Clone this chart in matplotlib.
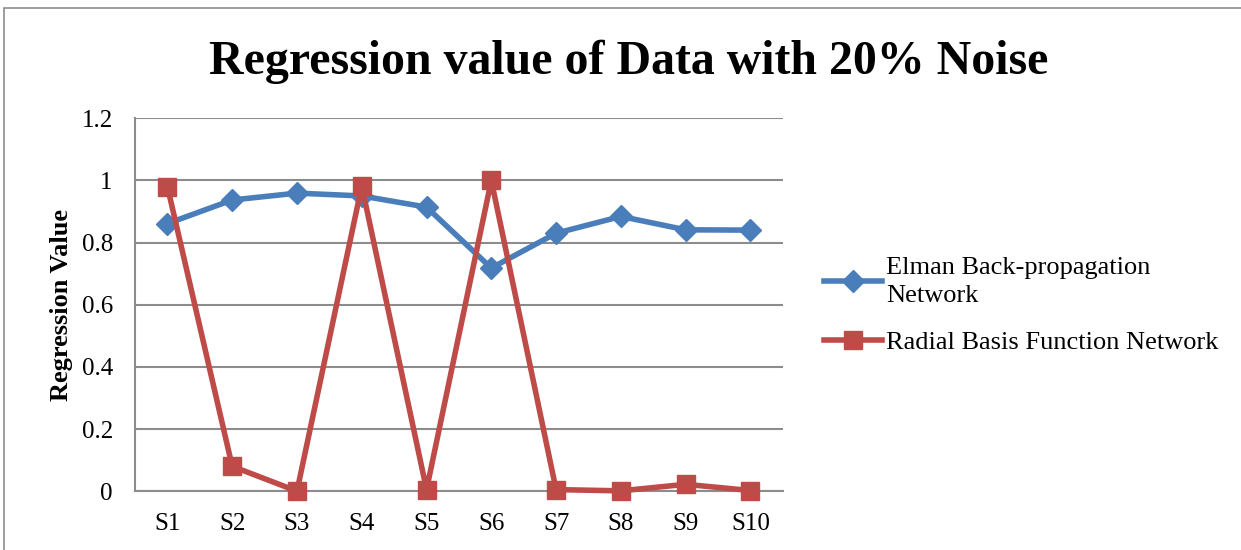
import matplotlib.pyplot as plt
from matplotlib.patches import Rectangle

categories = ['S1', 'S2', 'S3', 'S4', 'S5', 'S6', 'S7', 'S8', 'S9', 'S10']
elman = [0.861, 0.937, 0.959, 0.950, 0.914, 0.718, 0.830, 0.884, 0.841, 0.840]
rbf = [0.980, 0.080, 0.0, 0.982, 0.005, 1.0, 0.005, 0.001, 0.022, 0.002]
y_ticks = [0, 0.2, 0.4, 0.6, 0.8, 1, 1.2]

blue = '#4A7EBB'
red = '#BE4B48'
plt.rcParams['font.family'] = ['Liberation Serif', 'DejaVu Serif']

fig = plt.figure(figsize=(12.41, 5.5), dpi=100)
ax = fig.add_axes([0.1088, 0.107, 0.522, 0.678])

x = list(range(len(categories)))
ax.plot(x, elman, color=blue, lw=4, marker='D', ms=11, clip_on=False, zorder=3,
        label='Elman Back-propagation\nNetwork')
ax.plot(x, rbf, color=red, lw=4, marker='s', ms=13, clip_on=False, zorder=4,
        label='Radial Basis Function Network')

ax.set_xlim(-0.5, len(categories) - 0.5)
ax.set_ylim(0, 1.2)
ax.set_yticks(y_ticks)
ax.set_yticklabels(['0', '0.2', '0.4', '0.6', '0.8', '1', '1.2'])
ax.set_xticks(x)
ax.set_xticklabels(categories)
ax.tick_params(axis='both', labelsize=18, length=0)
ax.tick_params(axis='x', pad=16)
ax.tick_params(axis='y', pad=16)
ax.grid(axis='y', color='#8c8c8c', lw=1.5)
ax.set_axisbelow(True)
for s in ['top', 'right']:
    ax.spines[s].set_visible(False)
for s in ['left', 'bottom']:
    ax.spines[s].set_color('#8c8c8c')
    ax.spines[s].set_linewidth(1.5)
ax.set_ylabel('Regression Value', fontsize=19, fontweight='bold', labelpad=6)

fig.text(0.507, 0.888, 'Regression value of Data with 20% Noise', ha='center', va='center',
         fontsize=34.5, fontweight='bold')

leg = fig.legend(loc='center left', bbox_to_anchor=(0.645, 0.445), frameon=False, fontsize=19,
                 handlelength=2.2, labelspacing=0.9, handletextpad=0.15)
for t in leg.get_texts():
    t.set_linespacing(1.35)

fig.patches.append(Rectangle((0.003, -0.05), 1.1, 1.035, transform=fig.transFigure,
                             fill=False, edgecolor='#8c8c8c', lw=1.2))

fig.savefig('out.png', dpi=100)
